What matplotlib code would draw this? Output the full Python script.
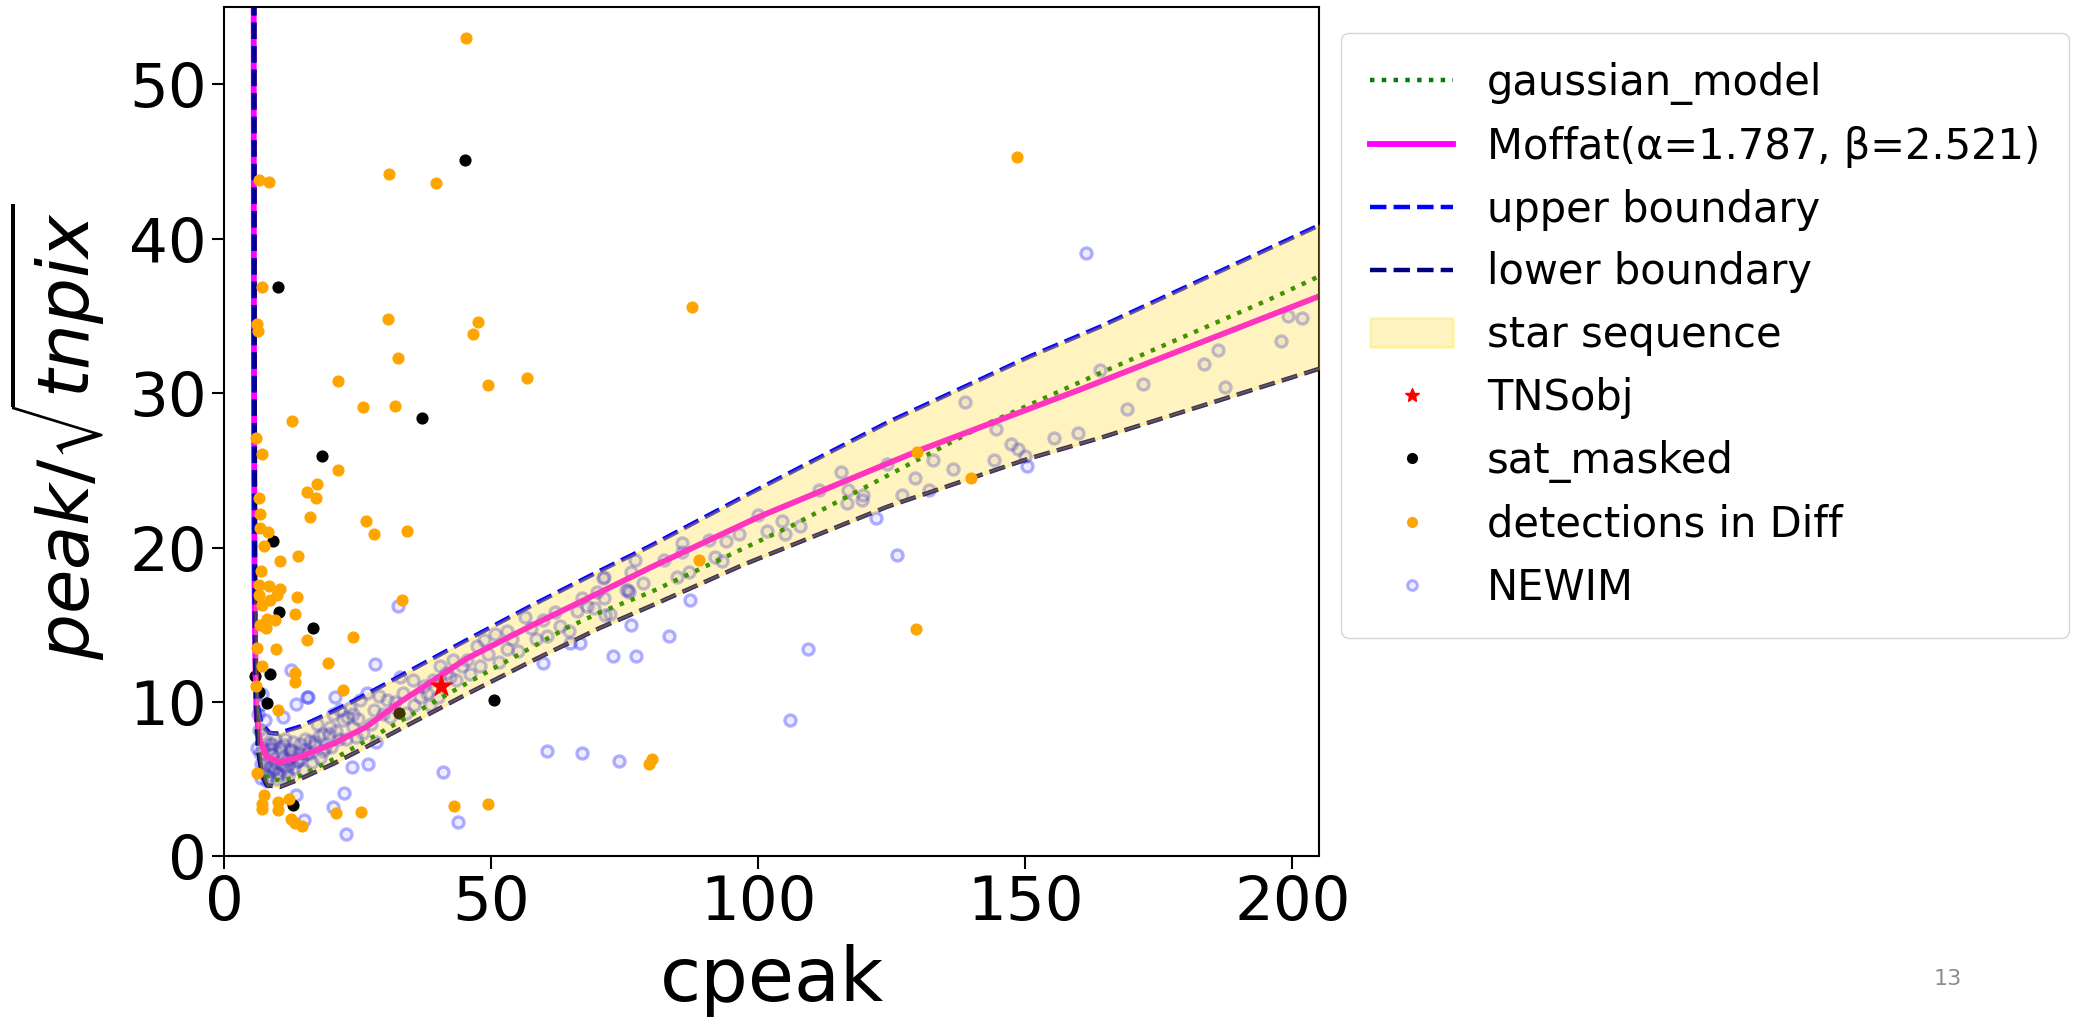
import matplotlib
matplotlib.use("Agg")
import matplotlib.pyplot as plt
from matplotlib.patches import Patch
from matplotlib.lines import Line2D

# model curves (cpeak, peak/sqrt(tnpix))
moffat_x = [5.55, 5.6, 5.7, 5.9, 6.1, 6.7, 8.0, 10.5, 14.2, 20.5, 26.7, 33.0, 45.4, 57.9, 70.4, 79.8, 100.2, 130.2, 160.0, 205.2]
moffat_y = [60.0, 35.0, 18.0, 12.0, 9.25, 7.5, 6.44, 6.1, 6.44, 7.3, 8.4, 10.0, 12.8, 15.0, 17.1, 18.7, 22.0, 26.3, 30.2, 36.3]

gauss_x = [5.6, 5.65, 5.75, 5.9, 6.3, 7.0, 8.5, 11.0, 14.2, 20.5, 26.7, 45.4, 64.2, 70.4, 79.8, 106.2, 142.1, 164.0, 195.9, 205.2]
gauss_y = [60.0, 30.0, 15.0, 10.0, 7.0, 5.6, 5.0, 4.9, 5.2, 6.3, 7.5, 11.2, 14.8, 15.8, 17.1, 21.4, 27.9, 31.3, 36.1, 37.6]

upper_x = [5.5, 5.55, 5.65, 5.8, 6.2, 7.0, 8.5, 9.9, 14.2, 20.5, 26.7, 45.4, 57.9, 70.4, 79.8, 97.3, 124.2, 151.0, 164.0, 205.2]
upper_y = [60.0, 35.0, 20.0, 13.0, 10.0, 8.6, 8.0, 7.95, 8.4, 9.4, 10.5, 14.0, 16.3, 18.5, 20.1, 23.3, 28.1, 32.4, 34.3, 40.9]

lower_x = [5.7, 5.75, 5.85, 6.0, 6.4, 7.0, 8.0, 10.5, 14.2, 20.5, 26.7, 45.4, 57.9, 70.4, 79.8, 97.3, 124.2, 151.0, 164.0, 205.2]
lower_y = [60.0, 30.0, 15.0, 10.0, 7.0, 5.4, 4.6, 4.5, 5.0, 6.0, 7.1, 10.5, 12.7, 14.8, 16.2, 18.9, 22.65, 25.8, 27.1, 31.6]

# star sequence band between the two boundaries
band_x = [5.85, 6.0, 6.4, 7.0, 8.0, 10.5, 14.2, 20.5, 26.7, 45.4, 57.9, 70.4, 79.8, 97.3, 124.2, 151.0, 164.0, 205.2]
band_lo = [15.0, 10.0, 7.0, 5.4, 4.6, 4.5, 5.0, 6.0, 7.1, 10.5, 12.7, 14.8, 16.2, 18.9, 22.65, 25.8, 27.1, 31.6]
band_hi = [17.0, 12.5, 9.6, 8.6, 8.1, 7.95, 8.4, 9.4, 10.5, 14.0, 16.3, 18.5, 20.1, 23.3, 28.1, 32.4, 34.3, 40.9]

tns_x = [40.7]
tns_y = [11.0]

sat_x = [5.8, 8.7, 6.6, 8.0, 32.8, 50.6, 12.9, 9.1, 10.3, 16.6, 45.1, 10.1, 37.1, 18.3]
sat_y = [11.7, 11.8, 10.65, 9.9, 9.3, 10.1, 3.3, 20.4, 15.85, 14.8, 45.1, 36.9, 28.4, 25.9]

diff_x = [45.3, 6.5, 8.5, 30.8, 39.7, 148.4, 7.2, 6.1, 6.4, 30.7, 47.5, 46.7, 87.6, 32.6, 21.3, 49.5,
          56.8, 26.1, 32.0, 12.7, 6.0, 7.1, 21.4, 17.5, 15.5, 17.2, 6.6, 16.1, 26.5, 28.1, 34.2, 6.7,
          6.7, 8.3, 7.5, 10.4, 13.8, 6.9, 6.6, 8.5, 10.5, 10.0, 6.6, 8.6, 7.1, 13.7, 33.3, 13.3,
          9.6, 8.0, 6.7, 7.9, 15.6, 24.2, 9.7, 19.4, 7.1, 13.2, 13.2, 22.3, 10.1, 6.1, 7.5, 7.2,
          7.1, 10.1, 10.2, 12.2, 12.5, 13.2, 14.6, 21.0, 25.7, 43.1, 49.5, 79.6, 80.1, 129.5, 129.8,
          139.8, 89.0, 6.2, 6.0]
diff_y = [53.0, 43.8, 43.7, 44.2, 43.6, 45.3, 36.9, 34.5, 34.0, 34.8, 34.6, 33.8, 35.6, 32.3, 30.8, 30.5,
          31.0, 29.1, 29.2, 28.2, 27.1, 26.05, 25.0, 24.1, 23.6, 23.2, 23.2, 22.0, 21.7, 20.9, 21.1, 22.2,
          21.25, 21.0, 20.1, 19.1, 19.45, 18.5, 17.6, 17.5, 17.3, 16.9, 16.9, 16.6, 16.3, 16.8, 16.6, 15.7,
          15.3, 15.4, 15.0, 14.8, 14.0, 14.2, 13.4, 12.5, 12.3, 11.85, 11.3, 10.8, 9.5, 5.4, 3.95, 3.4,
          3.05, 3.5, 2.98, 3.7, 2.44, 2.16, 1.95, 2.8, 2.87, 3.24, 3.4, 6.0, 6.3, 14.75, 26.2,
          24.5, 19.2, 13.5, 11.0]

newim_x = [199.2, 201.8, 197.8, 186.0, 183.4, 187.3, 172.1, 169.0, 163.9, 159.8, 155.4, 149.9, 148.6, 147.3,
           144.1, 144.6, 138.8, 136.5, 132.7, 131.9, 129.3, 126.9, 124.2, 119.5, 119.7, 116.9, 116.7, 115.5,
           111.4, 104.5, 105.0, 107.8, 101.6, 100.0, 96.4, 93.9, 90.8, 85.8, 85.8, 82.3, 84.8, 87.0, 91.9,
           93.3, 76.9, 76.2, 78.5, 75.3, 71.1, 71.1, 72.2, 75.8,
           75.6, 71.0, 69.8, 71.3, 67.0, 69.2, 62.9, 59.8, 58.4, 56.4, 53.9, 52.9, 50.7, 48.6, 47.3, 45.4,
           42.9, 42.3, 40.4, 39.2, 38.0, 36.7, 35.4, 33.6, 33.0, 30.5, 29.8, 28.0, 26.7, 25.5, 24.2, 24.2,
           22.3, 21.7, 20.5, 19.9, 18.6, 17.4, 16.1, 15.5, 14.2, 13.6, 12.4, 11.7, 10.5, 9.9, 8.6, 8.6,
           8.0, 7.4, 7.1, 6.7, 7.7,
           7.0, 7.5, 8.2, 9.0, 9.5, 10.0, 11.0, 11.5, 12.0, 12.8, 13.0, 14.8, 15.0, 16.5, 17.0, 18.0,
           19.0, 6.3, 6.5, 6.8, 7.2, 6.2, 9.2, 10.8, 12.2, 13.8, 15.8, 17.8, 8.8, 11.3,
           7.8, 8.4, 9.6, 10.3, 11.8, 12.6, 14.0, 15.2, 16.8, 18.5, 19.6, 21.0, 22.8, 23.6, 25.0,
           6.9, 7.3, 8.9, 9.4, 10.6, 11.9, 13.1, 14.5,
           20.0, 21.5, 23.0, 24.8, 26.0, 27.5, 29.0, 31.0, 32.0, 34.0, 35.5, 37.5, 38.5, 40.0, 41.5,
           43.5, 44.5, 46.0, 48.0, 49.5, 51.5, 53.0, 55.0, 57.5, 60.5, 62.0, 64.5, 66.0, 68.0,
           122.1, 126.0, 87.2, 76.2, 83.4, 72.9, 77.2, 109.4, 106.0, 150.4, 161.3,
           32.5, 28.3, 60.4, 67.0, 74.0, 41.0, 43.8, 22.8, 23.9, 26.9, 22.5, 20.4, 15.0, 13.4,
           59.8, 64.7, 66.7, 15.5, 13.4, 12.5, 11.1, 20.8, 15.7, 28.5]
newim_y = [35.0, 34.9, 33.4, 32.8, 31.9, 30.4, 30.6, 29.0, 31.5, 27.4, 27.1, 25.9, 26.4, 26.7,
           25.7, 27.7, 29.4, 25.1, 25.7, 23.7, 24.5, 23.4, 25.4, 23.1, 23.4, 23.7, 22.9, 24.9,
           23.7, 21.7, 20.9, 21.4, 21.1, 22.1, 20.9, 20.4, 20.5, 20.3, 19.7, 19.2, 18.1, 18.4, 19.4,
           19.1, 19.2, 18.4, 17.7, 17.25, 18.1, 16.7, 15.7, 17.1,
           17.25, 18.0, 17.1, 15.6, 16.7, 16.1, 14.9, 15.3, 14.05, 15.5, 14.1, 13.4, 14.4, 14.0, 13.6, 12.7,
           12.7, 11.6, 12.3, 11.4, 10.55, 10.3, 11.4, 10.55, 11.6, 10.1, 9.25, 9.5, 10.55, 10.1, 9.25, 8.4,
           8.8, 9.5, 9.25, 8.4, 7.95, 8.6, 7.5, 6.7, 7.3, 6.2, 6.9, 5.8, 7.1, 5.4, 5.8, 7.3,
           4.9, 5.4, 7.95, 6.7, 8.8,
           6.0, 6.3, 5.2, 6.6, 7.6, 5.0, 6.4, 7.6, 5.2, 6.5, 7.4, 5.6, 6.9, 6.1, 7.2, 6.4,
           7.0, 9.2, 8.2, 9.8, 10.5, 7.0, 5.6, 5.9, 6.0, 6.2, 6.6, 7.8, 7.0, 7.2,
           5.9, 6.9, 6.1, 5.3, 5.5, 6.9, 6.7, 7.6, 7.4, 6.8, 7.9, 8.1, 7.6, 9.6, 8.9,
           5.1, 7.0, 7.3, 5.7, 6.8, 6.3, 5.7, 6.4,
           7.1, 7.6, 9.0, 7.7, 8.0, 8.6, 10.4, 9.0, 10.0, 9.3, 9.8, 11.0, 9.8, 10.3, 11.9,
           11.4, 12.3, 11.8, 12.3, 13.1, 12.6, 14.6, 13.3, 14.8, 14.3, 15.8, 14.6, 15.9, 16.2,
           21.9, 19.5, 16.6, 15.0, 14.3, 13.0, 13.0, 13.4, 8.8, 25.3, 39.1,
           16.2, 12.45, 6.8, 6.7, 6.16, 5.47, 2.22, 1.47, 5.8, 5.97, 4.1, 3.2, 2.38, 3.96,
           12.5, 13.8, 13.8, 10.3, 9.86, 12.1, 9.0, 10.3, 10.3, 7.4]

fig = plt.figure(figsize=(20.74, 10.28), dpi=100)
ax = fig.add_axes([0.108, 0.167, 0.528, 0.826])

ring_face = (0, 0, 1, 0.07)
ring_edge = (0, 0, 1, 0.3)

# NEWIM rings and saturated points sit under the band
ax.plot(newim_x, newim_y, 'o', markerfacecolor=ring_face, markeredgecolor=ring_edge,
        markersize=8, markeredgewidth=2.4, zorder=1)
ax.scatter(sat_x, sat_y, s=60, color='black', zorder=1.5)

ax.plot(gauss_x, gauss_y, ':', color='green', lw=3.2, zorder=2)
ax.plot(moffat_x, moffat_y, '-', color='magenta', lw=4.2, zorder=2)
ax.plot(upper_x, upper_y, '--', color='blue', lw=3.2, zorder=2)
ax.plot(lower_x, lower_y, '--', color='navy', lw=3.2, zorder=2)
ax.fill_between(band_x, band_lo, band_hi, color='gold', alpha=0.25, lw=2, zorder=3)

ax.scatter(diff_x, diff_y, s=60, color='orange', zorder=4)
ax.scatter(tns_x, tns_y, s=240, marker='*', color='red', zorder=5)

ax.set_xlim(0, 205)
ax.set_ylim(0, 55)
ax.set_xticks([0, 50, 100, 150, 200])
ax.set_yticks([0, 10, 20, 30, 40, 50])
ax.tick_params(labelsize=44, length=9, width=1.5)
for s in ax.spines.values():
    s.set_linewidth(1.5)
ax.set_xlabel("cpeak", fontsize=54, labelpad=8)
ax.set_ylabel(r"$peak/\sqrt{tnpix}$", fontsize=52, labelpad=16)

handles = [
    Line2D([], [], ls=':', color='green', lw=3.2),
    Line2D([], [], ls='-', color='magenta', lw=4.2),
    Line2D([], [], ls='--', color='blue', lw=3.2),
    Line2D([], [], ls='--', color='navy', lw=3.2),
    Patch(facecolor='gold', edgecolor='gold', alpha=0.25, lw=2),
    Line2D([], [], ls='', marker='*', color='red', markersize=10),
    Line2D([], [], ls='', marker='o', color='black', markersize=7),
    Line2D([], [], ls='', marker='o', color='orange', markersize=7),
    Line2D([], [], ls='', marker='o', markerfacecolor=ring_face, markeredgecolor=ring_edge,
           markersize=7, markeredgewidth=2.2),
]
labels = ["gaussian_model", "Moffat(\u03b1=1.787, \u03b2=2.521)", "upper boundary", "lower boundary",
          "star sequence", "TNSobj", "sat_masked", "detections in Diff", "NEWIM"]
ax.legend(handles, labels, loc='upper left', bbox_to_anchor=(1.02, 0.97), fontsize=30,
          labelspacing=0.5, borderpad=0.7, handlelength=2.0, borderaxespad=0)

fig.text(0.939, 0.048, "13", fontsize=16, color='#8c8c8c', ha='center', va='center')

fig.savefig("out.png", dpi=100)
